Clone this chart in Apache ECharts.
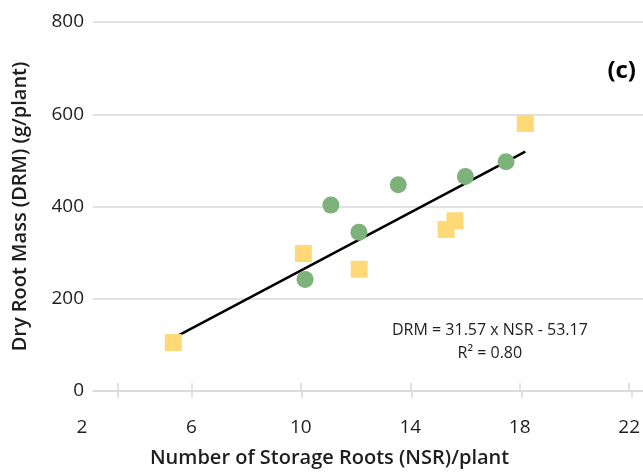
<!DOCTYPE html>
<html>
<head>
<meta charset="utf-8">
<script src="https://cdn.jsdelivr.net/npm/echarts@6.0.0/dist/echarts.min.js"></script>
<style>
html,body{margin:0;padding:0;background:#fff;}
#chart{width:643px;height:473px;}
</style>
</head>
<body>
<div id="chart"></div>
<script>
// Data
var greenNSR = [10.11, 11.05, 12.07, 13.50, 15.94, 17.42];
var greenDRM = [242, 403, 344, 447, 465, 497];
var yellowNSR = [5.32, 10.05, 12.08, 15.24, 15.56, 18.12];
var yellowDRM = [105, 298, 264, 350, 369, 580];
var trendSlope = 31.57;
var trendIntercept = -53.17;
var xTickValues = [3.3, 6, 10, 14, 18, 22];
var yTicks = { min: 0, max: 800, interval: 200 };
var xLabelAxis = { min: 2, max: 22, interval: 4 };
var equationText = 'DRM = 31.57 x NSR - 53.17\nR\u00B2 = 0.80';
var panelLabel = '(c)';
var xTitle = 'Number of Storage Roots (NSR)/plant';
var yTitle = 'Dry Root Mass (DRM) (g/plant)';

function pairs(xs, ys) { return xs.map(function (x, i) { return [x, ys[i]]; }); }
var allX = greenNSR.concat(yellowNSR);
var xLo = Math.min.apply(null, allX), xHi = Math.max.apply(null, allX);
var trendData = [[xLo, trendSlope * xLo + trendIntercept], [xHi, trendSlope * xHi + trendIntercept]];

var FONT = '"Open Sans", "Noto Sans", sans-serif';
var TXT = '#1e1e1e';
var GRIDC = '#d9d9d9';

var chart = echarts.init(document.getElementById('chart'), null, { renderer: 'canvas' });
chart.setOption({
  backgroundColor: '#ffffff',
  animation: false,
  textStyle: { fontFamily: FONT },
  grid: [
    { left: 93, right: 0, top: 22, bottom: 82, containLabel: false },
    { left: 82, right: 11, top: 22, bottom: 82, containLabel: false }
  ],
  xAxis: [
    {
      type: 'value', gridIndex: 0, min: 2.4, max: 22.4,
      axisLine: { show: true, onZero: false, lineStyle: { color: GRIDC, width: 1.5 } },
      axisTick: { show: true, inside: false, length: 7, customValues: xTickValues, lineStyle: { color: GRIDC, width: 1.5 } },
      axisLabel: { show: false },
      splitLine: { show: false }
    },
    {
      type: 'value', gridIndex: 1, min: xLabelAxis.min, max: xLabelAxis.max, interval: xLabelAxis.interval,
      axisLine: { show: false },
      axisTick: { show: true, inside: true, length: 7, customValues: xTickValues, lineStyle: { color: GRIDC, width: 1.5 } },
      axisLabel: { show: true, margin: 28, color: TXT, fontSize: 19, fontFamily: FONT },
      splitLine: { show: false },
      name: xTitle, nameLocation: 'middle', nameGap: 58,
      nameTextStyle: { color: TXT, fontSize: 20, fontWeight: 600, fontFamily: FONT, padding: [0, 52, 0, 0] }
    }
  ],
  yAxis: [
    {
      type: 'value', gridIndex: 0, min: yTicks.min, max: yTicks.max, interval: yTicks.interval,
      axisLine: { show: false }, axisTick: { show: false },
      axisLabel: { color: TXT, fontSize: 19, margin: 9, fontFamily: FONT },
      splitLine: { show: true, lineStyle: { color: GRIDC, width: 1.5 } },
      name: yTitle, nameLocation: 'middle', nameGap: 63,
      nameTextStyle: { color: TXT, fontSize: 20, fontWeight: 600, fontFamily: FONT }
    },
    {
      type: 'value', gridIndex: 1, min: yTicks.min, max: yTicks.max, show: false
    }
  ],
  graphic: [
    {
      type: 'text', left: 392, top: 319, z: 10,
      style: { text: equationText, fill: TXT, font: '16px ' + FONT, textAlign: 'center', lineHeight: 23, x: 107 }
    },
    {
      type: 'text', right: 7, top: 59, z: 10,
      style: { text: panelLabel, fill: '#000', font: 'bold 24px ' + FONT }
    }
  ],
  series: [
    {
      type: 'line', xAxisIndex: 0, yAxisIndex: 0, data: trendData,
      symbol: 'none', z: 1, silent: true,
      lineStyle: { color: '#000000', width: 2.5 }
    },
    {
      type: 'scatter', xAxisIndex: 0, yAxisIndex: 0, data: pairs(greenNSR, greenDRM),
      symbol: 'circle', symbolSize: 17, z: 3,
      itemStyle: { color: '#7db27b', opacity: 1 }
    },
    {
      type: 'scatter', xAxisIndex: 0, yAxisIndex: 0, data: pairs(yellowNSR, yellowDRM),
      symbol: 'rect', symbolSize: 17, z: 3,
      itemStyle: { color: '#ffd978', opacity: 1 }
    }
  ]
});
</script>
</body>
</html>
